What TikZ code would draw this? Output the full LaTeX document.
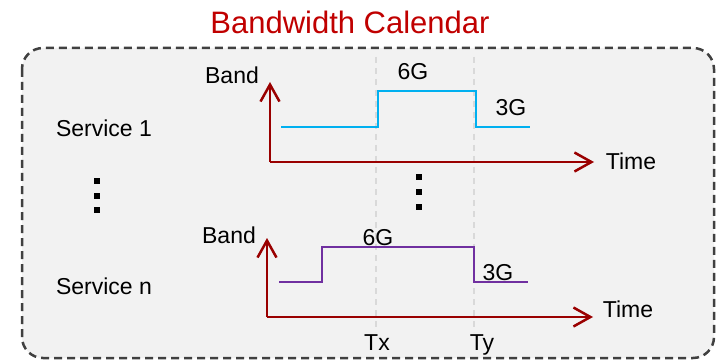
\documentclass[tikz,border=0pt]{standalone}
\usepackage{fontspec}
\setmainfont{Liberation Sans}
\usetikzlibrary{arrows.meta}
\definecolor{titlered}{HTML}{C00000}
\definecolor{axisred}{HTML}{9A0000}
\definecolor{bandblue}{HTML}{00B0F0}
\definecolor{bandpurple}{HTML}{7030A0}
\definecolor{boxgray}{HTML}{F2F2F2}
\definecolor{rimgray}{HTML}{404040}
\tikzset{
  axis/.style={axisred, line width=2.5pt, -{Straight Barb[length=17pt,width=19pt,line width=2.5pt]}},
  lbl/.style={font=\fontsize{23}{26}\selectfont, inner sep=0pt, anchor=base},
  tmark/.style={dash pattern=on 6pt off 5pt, black!15, line width=1.5pt},
  dot/.style={fill=black, minimum size=6pt, inner sep=0pt}
}
\begin{document}
\begin{tikzpicture}[x=1pt,y=-1pt]
  \useasboundingbox (0,0) rectangle (716,361);
  % calendar frame
  \draw[rimgray, fill=boxgray, line width=2.5pt, dash pattern=on 8pt off 5pt, rounded corners=21pt]
    (22,48) rectangle (714,358);
  \node[font=\fontsize{31}{34}\selectfont, titlered, inner sep=0pt, anchor=base] (title) at (350,34) {Bandwidth Calendar};
  % time marks
  \coordinate (tx) at (376,57);
  \coordinate (ty) at (474,57);
  \draw[tmark] (tx) -- (376,332);
  \draw[tmark] (ty) -- (474,332);
  \node[lbl] (txl) at (377,350) {Tx};
  \node[lbl] (tyl) at (482,350) {Ty};
  % service 1
  \coordinate (o1) at (270,162);
  \draw[axis] (o1) -- (270,82);
  \draw[axis] (o1) -- (594,162);
  \draw[bandblue, line width=2pt] (281,127) -- (378,127) -- (378,91) -- (476,91) -- (476,127) -- (530,127);
  \node[lbl] (band1) at (232,84) {Band};
  \node[lbl] (time1) at (631,170) {Time};
  \node[lbl] (hi1) at (413,80) {6G};
  \node[lbl] (lo1) at (511,116) {3G};
  \node[lbl] (srv1) at (104,136) {Service 1};
  % service n
  \coordinate (on) at (267,317);
  \draw[axis] (on) -- (267,238);
  \draw[axis] (on) -- (593,317);
  \draw[bandpurple, line width=2pt] (279,282) -- (322,282) -- (322,247) -- (474,247) -- (474,282) -- (528,282);
  \node[lbl] (bandn) at (229,243) {Band};
  \node[lbl] (timen) at (628,317) {Time};
  \node[lbl] (hin) at (378,245) {6G};
  \node[lbl] (lon) at (498,280) {3G};
  \node[lbl] (srvn) at (104,294) {Service n};
  % vertical ellipses
  \foreach \Y in {181,196,210} {
    \node[dot] at (97,\Y) {};
  }
  \foreach \Y in {177,192,207} {
    \node[dot] at (419,\Y) {};
  }
\end{tikzpicture}
\end{document}
